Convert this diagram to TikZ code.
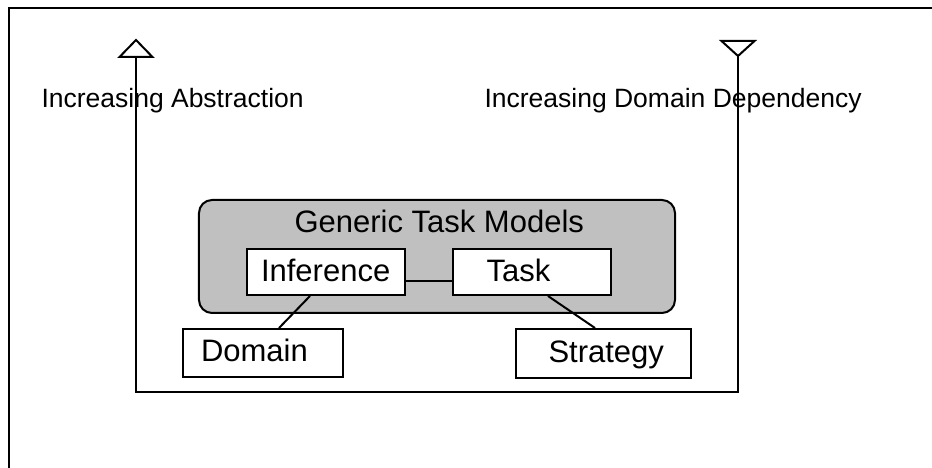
\documentclass[tikz,border=0pt]{standalone}
\usepackage{fontspec}
\setmainfont{Liberation Sans}
\definecolor{boxgray}{RGB}{192,192,192}
\begin{document}
\begin{tikzpicture}[x=1bp,y=-1bp,line width=2bp,
  axislabel/.style={inner sep=0pt,anchor=base west,font=\fontsize{26.5bp}{30bp}\selectfont},
  boxlabel/.style={inner sep=0pt,anchor=base west,font=\fontsize{31bp}{36bp}\selectfont},
  modelbox/.style={draw,fill=white,inner sep=0pt},
  tip/.style={draw,fill=white,line join=miter}]
\useasboundingbox (0,0) rectangle (932,468);

% outer frame
\draw (9,470) -- (9,8.5) -- (934,8.5);

% axis labels
\node[axislabel] (abslbl) at (40.5,107.5) {Increasing Abstraction};
\node[axislabel] (deplbl) at (483.5,107.5) {Increasing Domain Dependency};

% axes
\coordinate (absTop) at (136,57);
\coordinate (leftBottom) at (136,392.5);
\coordinate (rightBottom) at (738,392.5);
\coordinate (depTop) at (738,56);
\draw (absTop) -- (leftBottom) -- (rightBottom) -- (depTop);
\draw[tip] (absTop) ++(-16.5,0) -- ++(16.5,-17) -- ++(16.5,17) -- cycle;
\draw[tip] (depTop) ++(-16.5,-15) -- ++(16.5,15) -- ++(16.5,-15) -- cycle;

% generic task models container
\node[draw,fill=boxgray,rounded corners=13bp,minimum width=476bp,minimum height=113bp,inner sep=0pt] (gtm) at (437,256.5) {};
\node[boxlabel] (gtmlbl) at (293.5,232.5) {Generic Task Models};

% component boxes
\node[modelbox,minimum width=158bp,minimum height=46bp] (inf) at (326,272) {};
\node[modelbox,minimum width=158bp,minimum height=46bp] (task) at (532,272) {};
\node[modelbox,minimum width=160bp,minimum height=48bp] (dom) at (263,353) {};
\node[modelbox,minimum width=175bp,minimum height=49bp] (strat) at (603.5,353.5) {};

\node[boxlabel] (inflbl) at (260,282) {Inference};
\node[boxlabel] (tasklbl) at (485.5,282) {Task};
\node[boxlabel] (domlbl) at (200,362) {Domain};
\node[boxlabel] (stratlbl) at (547.5,362.5) {Strategy};

% relations
\draw ([yshift=-9bp]inf.east) -- ([yshift=-9bp]task.west);
\draw ([xshift=-16bp]inf.south) -- ([xshift=16bp]dom.north);
\draw ([xshift=16bp]task.south) -- ([xshift=-8.5bp]strat.north);
\end{tikzpicture}
\end{document}
